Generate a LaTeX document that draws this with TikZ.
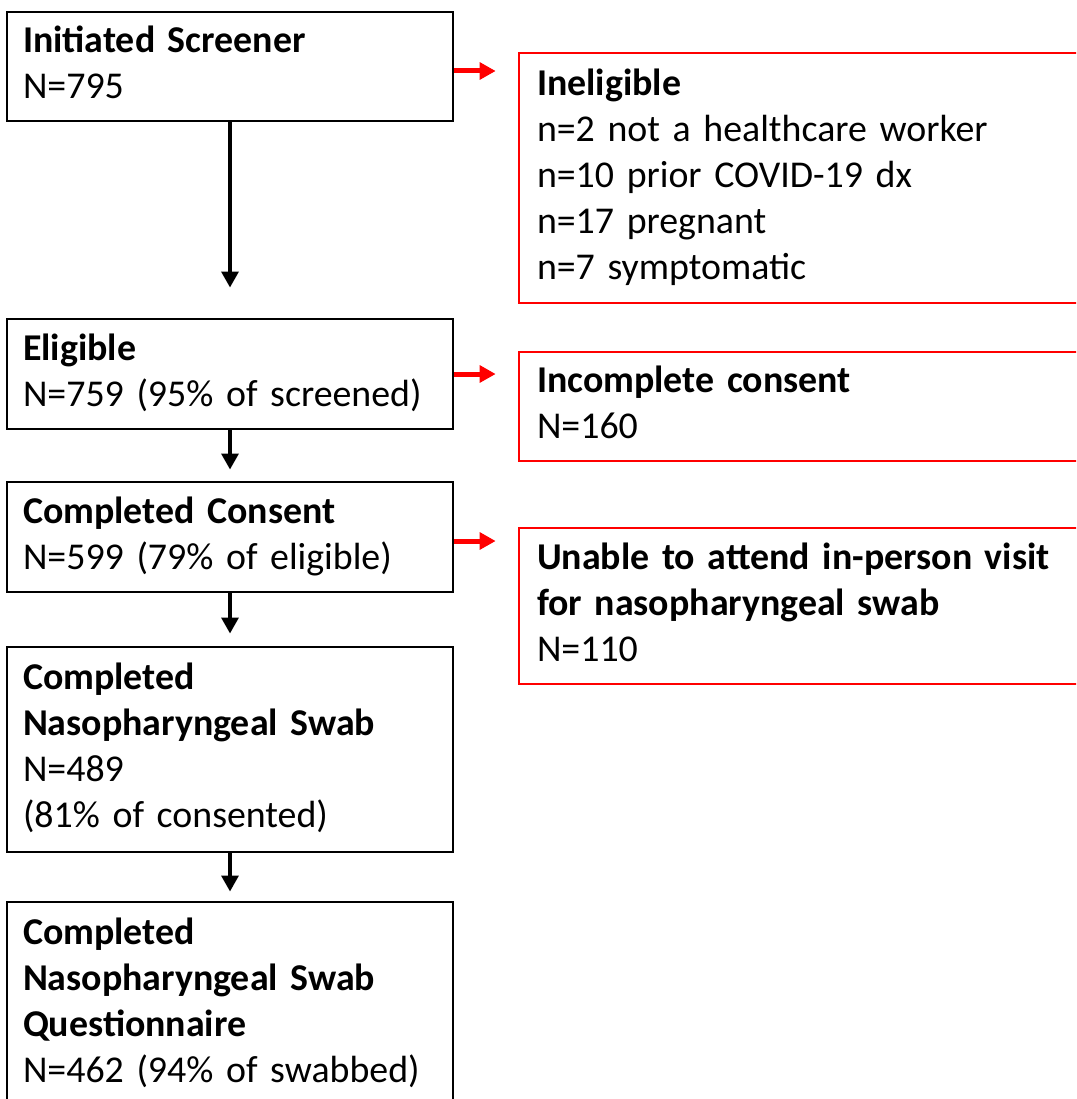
\documentclass[tikz,border=0pt]{standalone}
\usepackage{fontspec}
\setmainfont{Carlito}
\usetikzlibrary{arrows.meta,calc}
\begin{document}
\begin{tikzpicture}[x=0.75pt,y=-0.75pt,
  txt/.style={font=\fontsize{28.4pt}{34.5pt}\selectfont, align=left, inner ysep=0pt,
    execute at begin node=\strut, execute at end node=\strut},
  mainbox/.style={txt, draw=black, line width=2.1pt, text width=310.5pt, inner xsep=12pt},
  exbox/.style={txt, draw=red, line width=2pt, text width=401.25pt, inner xsep=13.5pt},
  flow/.style={line width=3.4pt, black, -{Triangle[width=12.5pt,length=12pt]}},
  excl/.style={line width=3.75pt, red, -{Triangle[width=12.5pt,length=12pt]}, shorten >=16.5pt}
]
\useasboundingbox (0,0) rectangle (1076,1099);
\clip (0,0) rectangle (1076,1099);

\node[mainbox, minimum height=81.75pt] (b1) at (230,66.5) {\textbf{Initiated Screener}\\N=795};
\node[mainbox, minimum height=82.5pt] (b2) at (230,374) {\textbf{Eligible}\\N=759 (95\% of screened)};
\node[mainbox, minimum height=82.5pt] (b3) at (230,537) {\textbf{Completed Consent}\\N=599 (79\% of eligible)};
\node[mainbox, minimum height=153.75pt] (b4) at (230,749.5) {\textbf{Completed}\\\textbf{Nasopharyngeal Swab}\\N=489\\(81\% of consented)};
\node[mainbox, minimum height=153.75pt] (b5) at (230,1004.5) {\textbf{Completed}\\\textbf{Nasopharyngeal Swab}\\\textbf{Questionnaire}\\N=462 (94\% of swabbed)};

\node[exbox, minimum height=187.5pt] (r1) at (804.5,178) {\textbf{Ineligible}\\n=2 not a healthcare worker\\n=10 prior COVID-19 dx\\n=17 pregnant\\n=7 symptomatic};
\node[exbox, minimum height=81.75pt] (r2) at (804.5,406.5) {\textbf{Incomplete consent}\\N=160};
\node[exbox, minimum height=117pt] (r3) at (804.5,606) {\textbf{Unable to attend in-person visit}\\\textbf{for nasopharyngeal swab}\\N=110};

\draw[flow, shorten >=22.5pt] (b1) -- (b2);
\draw[flow, shorten >=8.25pt] (b2) -- (b3);
\draw[flow, shorten >=9pt] (b3) -- (b4);
\draw[flow, shorten >=6.75pt] (b4) -- (b5);

\coordinate (s1) at ($(b1.east)+(0,4.5)$);
\coordinate (s2) at (b2.east);
\coordinate (s3) at ($(b3.east)+(0,4)$);
\draw[excl] (s1) -- (s1 -| r1.west);
\draw[excl] (s2) -- (s2 -| r2.west);
\draw[excl] (s3) -- (s3 -| r3.west);
\end{tikzpicture}
\end{document}
